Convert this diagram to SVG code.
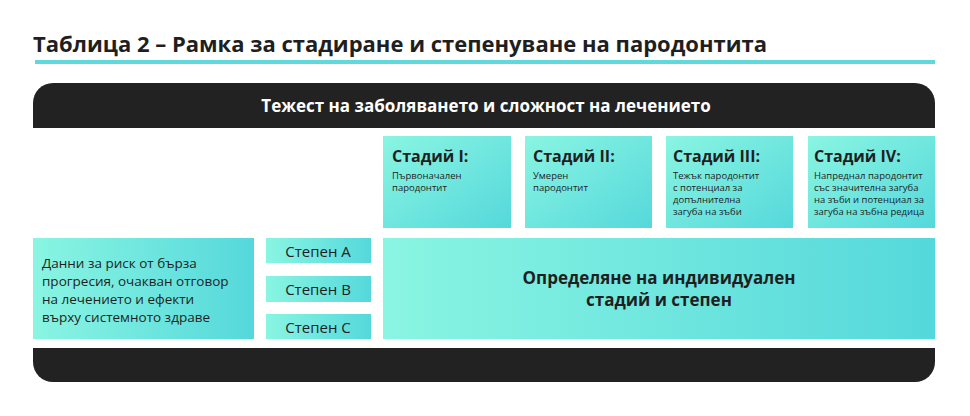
<svg xmlns="http://www.w3.org/2000/svg" width="970" height="416" viewBox="0 0 970 416">
<defs>
<linearGradient id="g" x1="0" y1="0" x2="1" y2="1"><stop offset="0" stop-color="#8af5e2"/><stop offset="1" stop-color="#55d8db"/></linearGradient>
<linearGradient id="gh" x1="0" y1="0" x2="1" y2="0"><stop offset="0" stop-color="#8af5e2"/><stop offset="1" stop-color="#55d8db"/></linearGradient>
<style>
text{font-family:"Open Sans","Noto Sans",sans-serif;fill:#1f1f1f}
.b{font-weight:700}
.h{font-size:16px;font-weight:700}
.s{font-size:9.5px}
.w{fill:#fff;font-weight:700;font-size:17px}
</style>
</defs>
<rect width="970" height="416" fill="#fff"/>
<text x="33" y="52" class="b" font-size="22">Таблица 2 – Рамка за стадиране и степенуване на пародонтита</text>
<rect x="35" y="60" width="900" height="4" fill="#5fd9dc"/>
<g id="top"><path d="M53 83H915A20 20 0 0 1 935 103V128H33V103A20 20 0 0 1 53 83Z" fill="#222"/>
<text x="486" y="112" text-anchor="middle" class="w">Тежест на заболяването и сложност на лечението</text></g>
<g id="s1"><rect x="383" y="136" width="128" height="92" fill="url(#g)"/><text x="392" y="162" class="h">Стадий I:</text><text class="s" x="392" y="179">Първоначален</text><text class="s" x="392" y="191">пародонтит</text></g>
<g id="s2"><rect x="525" y="136" width="127" height="92" fill="url(#g)"/><text x="533" y="162" class="h">Стадий II:</text><text class="s" x="533" y="179">Умерен</text><text class="s" x="533" y="191">пародонтит</text></g>
<g id="s3"><rect x="666" y="136" width="127" height="92" fill="url(#g)"/><text x="673" y="162" class="h">Стадий III:</text><text class="s" x="673" y="179">Тежък пародонтит</text><text class="s" x="673" y="191">с потенциал за</text><text class="s" x="673" y="203">допълнителна</text><text class="s" x="673" y="215">загуба на зъби</text></g>
<g id="s4"><rect x="808" y="136" width="127" height="92" fill="url(#g)"/><text x="814" y="162" class="h">Стадий IV:</text><text class="s" x="814" y="179">Напреднал пародонтит</text><text class="s" x="814" y="191">със значителна загуба</text><text class="s" x="814" y="203">на зъби и потенциал за</text><text class="s" x="814" y="215">загуба на зъбна редица</text></g>
<g id="risk"><rect x="33" y="238" width="221" height="101" fill="url(#gh)"/>
<text font-size="13.5"><tspan x="42" y="268">Данни за риск от бърза</tspan><tspan x="42" y="286">прогресия, очакван отговор</tspan><tspan x="42" y="304">на лечението и ефекти</tspan><tspan x="42" y="322">върху системното здраве</tspan></text></g>
<g id="gA"><rect x="266" y="238" width="105" height="25" fill="url(#gh)"/><text x="318" y="257" text-anchor="middle" font-size="15">Степен А</text></g>
<g id="gB"><rect x="266" y="276" width="105" height="26" fill="url(#gh)"/><text x="318" y="295" text-anchor="middle" font-size="15">Степен В</text></g>
<g id="gC"><rect x="266" y="314" width="105" height="25" fill="url(#gh)"/><text x="318" y="333" text-anchor="middle" font-size="15">Степен С</text></g>
<g id="result"><rect x="383" y="238" width="552" height="101" fill="url(#gh)"/>
<text x="659" y="284" text-anchor="middle" class="b" font-size="17">Определяне на индивидуален</text><text x="659" y="306" text-anchor="middle" class="b" font-size="17">стадий и степен</text></g>
<g id="bottom"><path d="M33 348H935V362A20 20 0 0 1 915 382H53A20 20 0 0 1 33 362Z" fill="#222"/></g>
<g id="connectors"/>
</svg>
